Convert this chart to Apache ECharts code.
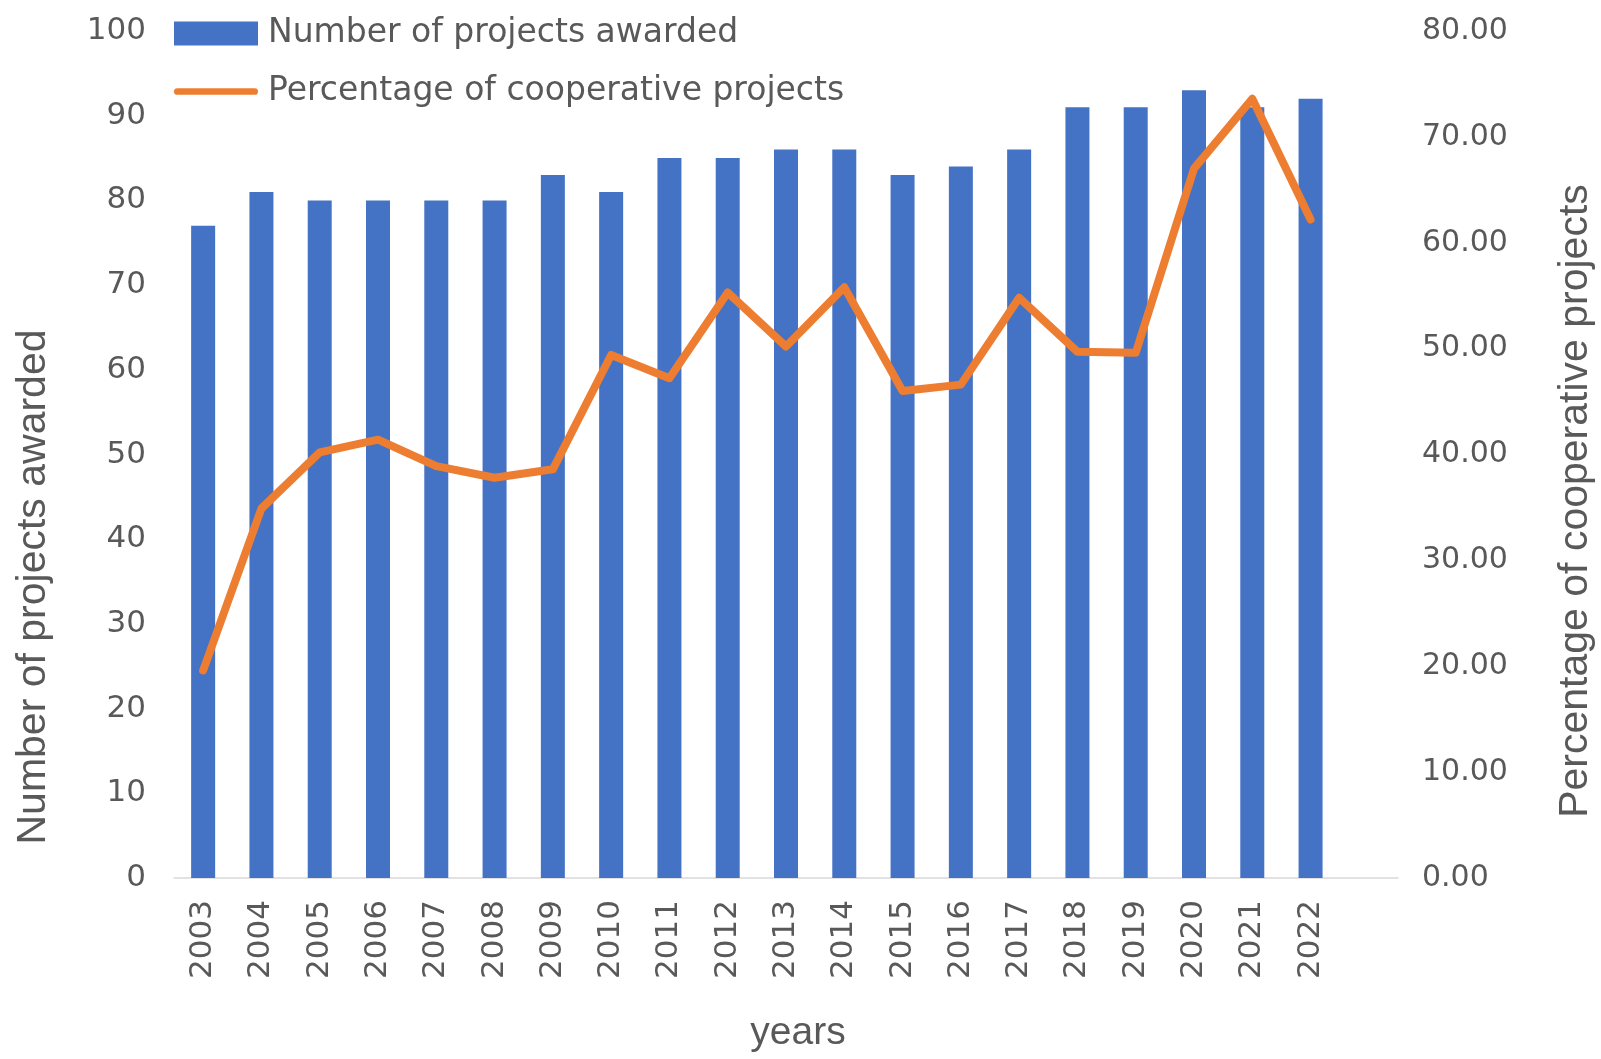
<!DOCTYPE html>
<html>
<head>
<meta charset="utf-8">
<script src="https://cdn.jsdelivr.net/npm/echarts@6/dist/echarts.min.js"></script>
<style>
html,body{margin:0;padding:0;background:#fff;}
#chart{width:1601px;height:1059px;}
</style>
</head>
<body>
<div id="chart"></div>
<script>
// Data
const years = ['2003','2004','2005','2006','2007','2008','2009','2010','2011','2012','2013','2014','2015','2016','2017','2018','2019','2020','2021','2022',''];
const projectsAwarded = [77,81,80,80,80,80,83,81,85,85,86,86,83,84,86,91,91,93,91,92,null];
const cooperativePct = [19.6,34.9,40.2,41.4,38.9,37.8,38.6,49.4,47.2,55.3,50.2,55.8,46.0,46.6,54.8,49.7,49.6,67.0,73.6,62.2,null];
const leftTicks = {min:0, max:100, interval:10};
const rightTicks = {min:0, max:80, interval:10};

const gray = '#595959';
const tickFont = 'DejaVu Sans';
const titleFont = 'Liberation Sans';

const chart = echarts.init(document.getElementById('chart'), null, {renderer:'canvas'});
chart.setOption({
  backgroundColor:'#ffffff',
  animation:false,
  legend:{
    orient:'vertical',
    left:169,
    top:12,
    itemWidth:84,
    itemHeight:24,
    itemGap:25,
    textStyle:{color:gray, fontSize:33, fontFamily:tickFont, padding:[0,0,0,5]},
    data:[
      {name:'Number of projects awarded', icon:'rect'},
      {name:'Percentage of cooperative projects', icon:'path://M4,0 L96,0 A4,4 0 0 1 96,8 L4,8 A4,4 0 0 1 4,0 Z', itemStyle:{color:'#ED7D31'}}
    ]
  },
  grid:{left:174, right:203, top:31, bottom:181, containLabel:false, outerBoundsMode:'none'},
  xAxis:{
    type:'category',
    data:years,
    boundaryGap:true,
    axisTick:{show:false},
    axisLine:{lineStyle:{color:'#d9d9d9', width:1.5}},
    axisLabel:{rotate:90, margin:22, color:gray, fontSize:31, fontFamily:tickFont, interval:0},
    name:'years',
    nameLocation:'middle',
    nameGap:136,
    nameTextStyle:{color:gray, fontSize:39, fontFamily:titleFont, padding:[0,0,0,24]}
  },
  yAxis:[
    {
      type:'value', min:leftTicks.min, max:leftTicks.max, interval:leftTicks.interval,
      splitLine:{show:false}, axisLine:{show:false}, axisTick:{show:false},
      axisLabel:{color:gray, fontSize:31, fontFamily:tickFont, margin:28}
    },
    {
      type:'value', min:rightTicks.min, max:rightTicks.max, interval:rightTicks.interval,
      position:'right',
      splitLine:{show:false}, axisLine:{show:false}, axisTick:{show:false},
      axisLabel:{color:gray, fontSize:30, fontFamily:tickFont, margin:24, formatter:v=>v.toFixed(2)}
    }
  ],
  graphic:[
    {type:'text', x:34, y:587, rotation:Math.PI/2,
     style:{text:'Number of projects awarded', font:'41px "Liberation Sans"', fill:gray, textAlign:'center', textVerticalAlign:'middle'}},
    {type:'text', x:1576, y:501, rotation:Math.PI/2,
     style:{text:'Percentage of cooperative projects', font:'41px "Liberation Sans"', fill:gray, textAlign:'center', textVerticalAlign:'middle'}}
  ],
  series:[
    {
      name:'Number of projects awarded',
      type:'bar',
      yAxisIndex:0,
      data:projectsAwarded,
      barWidth:24,
      itemStyle:{color:'#4472C4'}
    },
    {
      name:'Percentage of cooperative projects',
      type:'line',
      yAxisIndex:1,
      data:cooperativePct,
      symbol:'none',
      showSymbol:false,
      lineStyle:{color:'#ED7D31', width:8, cap:'round', join:'round'},
      itemStyle:{color:'#ED7D31'}
    }
  ]
});
</script>
</body>
</html>
